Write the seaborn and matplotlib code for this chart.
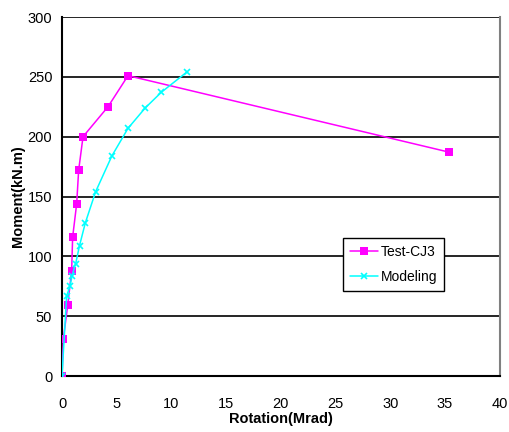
import matplotlib
matplotlib.use("Agg")
import matplotlib.pyplot as plt
import seaborn as sns
import pandas as pd

test_rot = [0, 0.12, 0.52, 0.88, 0.97, 1.34, 1.52, 1.92, 4.2, 6.03, 35.4]
test_mom = [0, 31, 59, 88, 116, 144, 172, 200, 225, 251, 187]
model_rot = [0, 0.42, 0.73, 0.91, 1.25, 1.6, 2.13, 3.07, 4.56, 6.03, 7.6, 9.06, 11.4]
model_mom = [0, 67, 75, 83.5, 94, 109, 128, 154, 184, 207, 224, 237, 254]
x_ticks = [0, 5, 10, 15, 20, 25, 30, 35, 40]
y_ticks = [0, 50, 100, 150, 200, 250, 300]

sns.set_theme(style="white")
plt.rcParams['font.family'] = ['Liberation Sans', 'DejaVu Sans']
plt.rcParams['text.color'] = 'black'
plt.rcParams['axes.labelcolor'] = 'black'
plt.rcParams['xtick.color'] = 'black'
plt.rcParams['ytick.color'] = 'black'

fig = plt.figure(figsize=(5.1, 4.32), dpi=100)
ax = fig.add_axes([0.1216, 0.1296, 0.8584, 0.831])

df_t = pd.DataFrame({"r": test_rot, "m": test_mom})
df_m = pd.DataFrame({"r": model_rot, "m": model_mom})

for y in y_ticks[1:]:
    ax.axhline(y, color="black", lw=1.2, zorder=0)

sns.lineplot(data=df_t, x="r", y="m", sort=False, ax=ax, color="#ff00ff", lw=1.1,
             marker="s", markersize=6, markeredgewidth=0, label="Test-CJ3", zorder=3)
sns.lineplot(data=df_m, x="r", y="m", sort=False, ax=ax, color="#00ffff", lw=1.1,
             marker="x", markersize=5, markeredgewidth=1.2, markeredgecolor="#00ffff",
             label="Modeling", zorder=4)

ax.set_xlim(0, 40)
ax.set_ylim(0, 300)
ax.set_xticks(x_ticks)
ax.set_yticks(y_ticks)
ax.tick_params(axis="both", direction="out", length=4, width=1, color="black",
               labelsize=10.5, pad=11)
ax.tick_params(axis="y", pad=3)
for sp in ["left", "bottom"]:
    ax.spines[sp].set_color("black")
    ax.spines[sp].set_linewidth(1.5)
ax.spines["top"].set_visible(False)
ax.spines["right"].set_color("gray")
ax.spines["right"].set_linewidth(1.5)

ax.set_xlabel("Rotation(Mrad)", fontsize=10.5, fontweight="bold", labelpad=1)
ax.set_ylabel("Moment(kN.m)", fontsize=10.5, fontweight="bold", labelpad=2)

leg = ax.legend(loc="lower left", bbox_to_anchor=(0.642, 0.237), borderaxespad=0,
                frameon=True, fancybox=False, edgecolor="black", fontsize=10,
                handlelength=2.0, borderpad=0.5, labelspacing=0.8, handletextpad=0.2)
leg.get_frame().set_linewidth(1.0)
leg.get_frame().set_facecolor("white")
leg.get_frame().set_alpha(1)

fig.savefig("out.png", dpi=100)
